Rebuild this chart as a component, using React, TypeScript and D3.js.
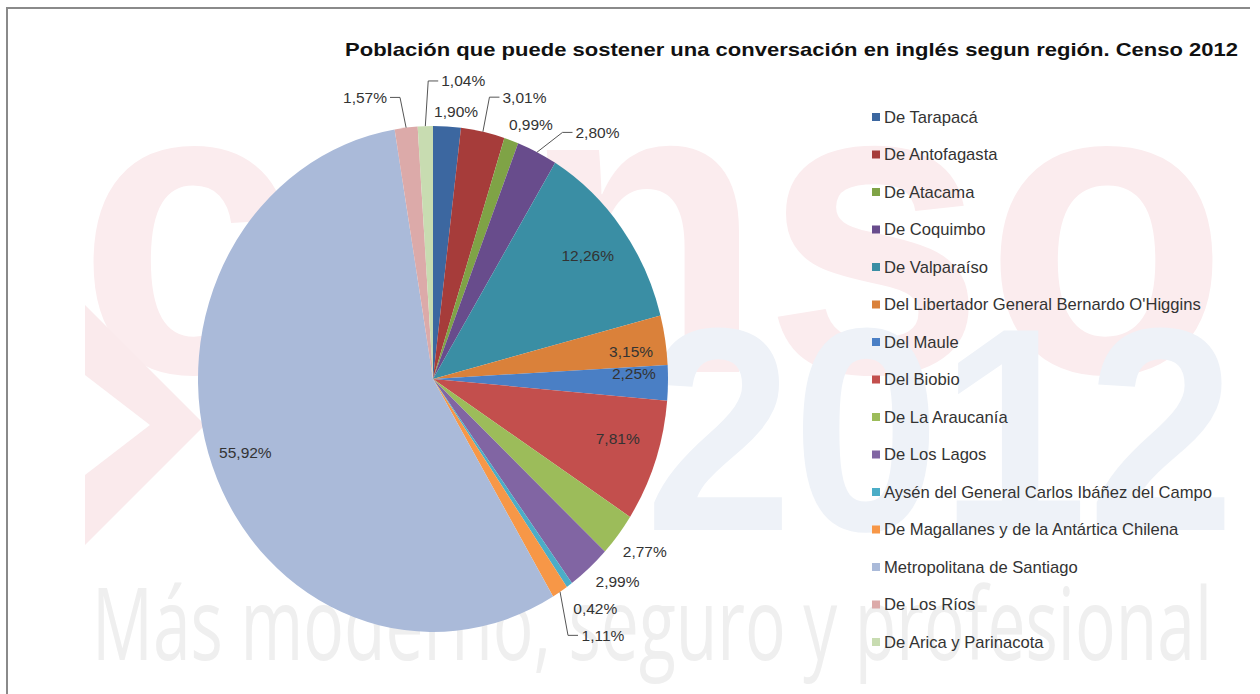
import React from 'react';
import * as d3 from 'd3';

const regions = [
  'De Tarapacá',
  'De Antofagasta',
  'De Atacama',
  'De Coquimbo',
  'De Valparaíso',
  "Del Libertador General Bernardo O'Higgins",
  'Del Maule',
  'Del Biobio',
  'De La Araucanía',
  'De Los Lagos',
  'Aysén del General Carlos Ibáñez del Campo',
  'De Magallanes y de la Antártica Chilena',
  'Metropolitana de Santiago',
  'De Los Ríos',
  'De Arica y Parinacota',
];

const shares = [1.9, 3.01, 0.99, 2.8, 12.26, 3.15, 2.25, 7.81, 2.77, 2.99, 0.42, 1.11, 55.92, 1.57, 1.04];

const colors = [
  '#3c67a0', '#a63c3a', '#7fa346', '#684c8c', '#3a8ea4', '#da813a', '#4a7fc5', '#c34f4d',
  '#9cbc5a', '#8165a3', '#4badc7', '#f79747', '#aabad9', '#dcaaa9', '#c8dcb1',
];

// label placement: radius factor (1 = pie edge), angle nudge in degrees, leader line
const labelLayout = [
  { r: 1.06, shift: 1.9, leader: false },
  { r: 1.18, shift: 7, leader: true },
  { r: 1.09, shift: 3, leader: false },
  { r: 1.2, shift: 9.4, leader: true },
  { r: 0.82, shift: 0, leader: false },
  { r: 0.85, shift: 1.4, leader: false },
  { r: 0.855, shift: -2.4, leader: false },
  { r: 0.82, shift: -2.4, leader: false },
  { r: 1.13, shift: -0.9, leader: false },
  { r: 1.12, shift: -2.9, leader: false },
  { r: 1.14, shift: -1.8, leader: false },
  { r: 1.245, shift: -2.8, leader: true },
  { r: 0.85, shift: 0, leader: false },
  { r: 1.15, shift: -8, leader: true },
  { r: 1.185, shift: 8.1, leader: true },
];

const title = 'Población que puede sostener una conversación en inglés segun región. Censo 2012';

const W = 1260;
const H = 694;
const cx = 433;
const cy = 379;
const rx = 235;
const ry = 253;

const fmt = (v: number) => v.toFixed(2).replace('.', ',') + '%';

export default function App() {
  const pie = d3.pie<number>().sort(null).value((d) => d);
  const arcs = pie(shares);
  const arc = d3.arc<d3.PieArcDatum<number>>().innerRadius(0).outerRadius(rx);

  const onEllipse = (a: number, r: number): [number, number] => [
    cx + rx * r * Math.sin(a),
    cy - ry * r * Math.cos(a),
  ];

  const legendY = d3.scaleLinear().domain([0, regions.length - 1]).range([117, 642]);
  const halfW = 23;

  return (
    <svg width={W} height={H} style={{ display: 'block', position: 'absolute', left: 0, top: 0 }}
      fontFamily="'Liberation Sans', Arial, sans-serif">
      <rect width={W} height={H} fill="#fff" />

      {/* faded background artwork */}
      <g>
        <text x={78} y={372} fontSize={420} fontWeight="bold" fill="#fbecee" textLength={1150}
          lengthAdjust="spacingAndGlyphs">censo</text>
        <polygon points="85,305 205,425 85,545 85,475 150,425 85,375" fill="#faeaec" />
        <text x={645} y={530} fontSize={290} fontWeight="bold" fill="#eef2f8" textLength={590}
          lengthAdjust="spacingAndGlyphs">2012</text>
        <text x={92} y={660} fontSize={100} fill="#efefef" textLength={1120}
          lengthAdjust="spacingAndGlyphs" fontFamily="'Open Sans', sans-serif">Más moderno, seguro y profesional</text>
      </g>

      {/* frame */}
      <path d={`M7,${H} V8 H1250`} fill="none" stroke="#8a8a8a" strokeWidth={2} />

      <text x={345} y={56} fontSize={19} fontWeight="bold" fill="#111" textLength={893}
        lengthAdjust="spacingAndGlyphs">{title}</text>

      <g transform={`translate(${cx},${cy}) scale(1,${ry / rx})`}>
        {arcs.map((d, i) => (
          <path key={i} d={arc(d) || ''} fill={colors[i]} />
        ))}
      </g>

      <g fontSize={15.5} fill="#333">
        {arcs.map((d, i) => {
          const lay = labelLayout[i];
          const mid = (d.startAngle + d.endAngle) / 2;
          const [lx, ly] = onEllipse(mid + (lay.shift * Math.PI) / 180, lay.r);
          let leader = null;
          if (lay.leader) {
            const [ex, ey] = onEllipse(mid, 1);
            const right = lx > ex;
            const sx = right ? lx - halfW - 2 : lx + halfW + 2;
            const elx = right ? sx - 10 : sx + 10;
            leader = (
              <path d={`M${ex},${ey} L${elx},${ly} H${sx}`} fill="none" stroke="#555" strokeWidth={1} />
            );
          }
          return (
            <g key={i}>
              {leader}
              <text x={lx} y={ly} textAnchor="middle" dominantBaseline="central">{fmt(shares[i])}</text>
            </g>
          );
        })}
      </g>

      <g>
        {regions.map((name, i) => (
          <g key={name} transform={`translate(872,${legendY(i)})`}>
            <rect x={0} y={-4} width={8} height={8} fill={colors[i]} />
            <text x={12} y={0} dominantBaseline="central" fontSize={16.6} fill="#333">{name}</text>
          </g>
        ))}
      </g>
    </svg>
  );
}
